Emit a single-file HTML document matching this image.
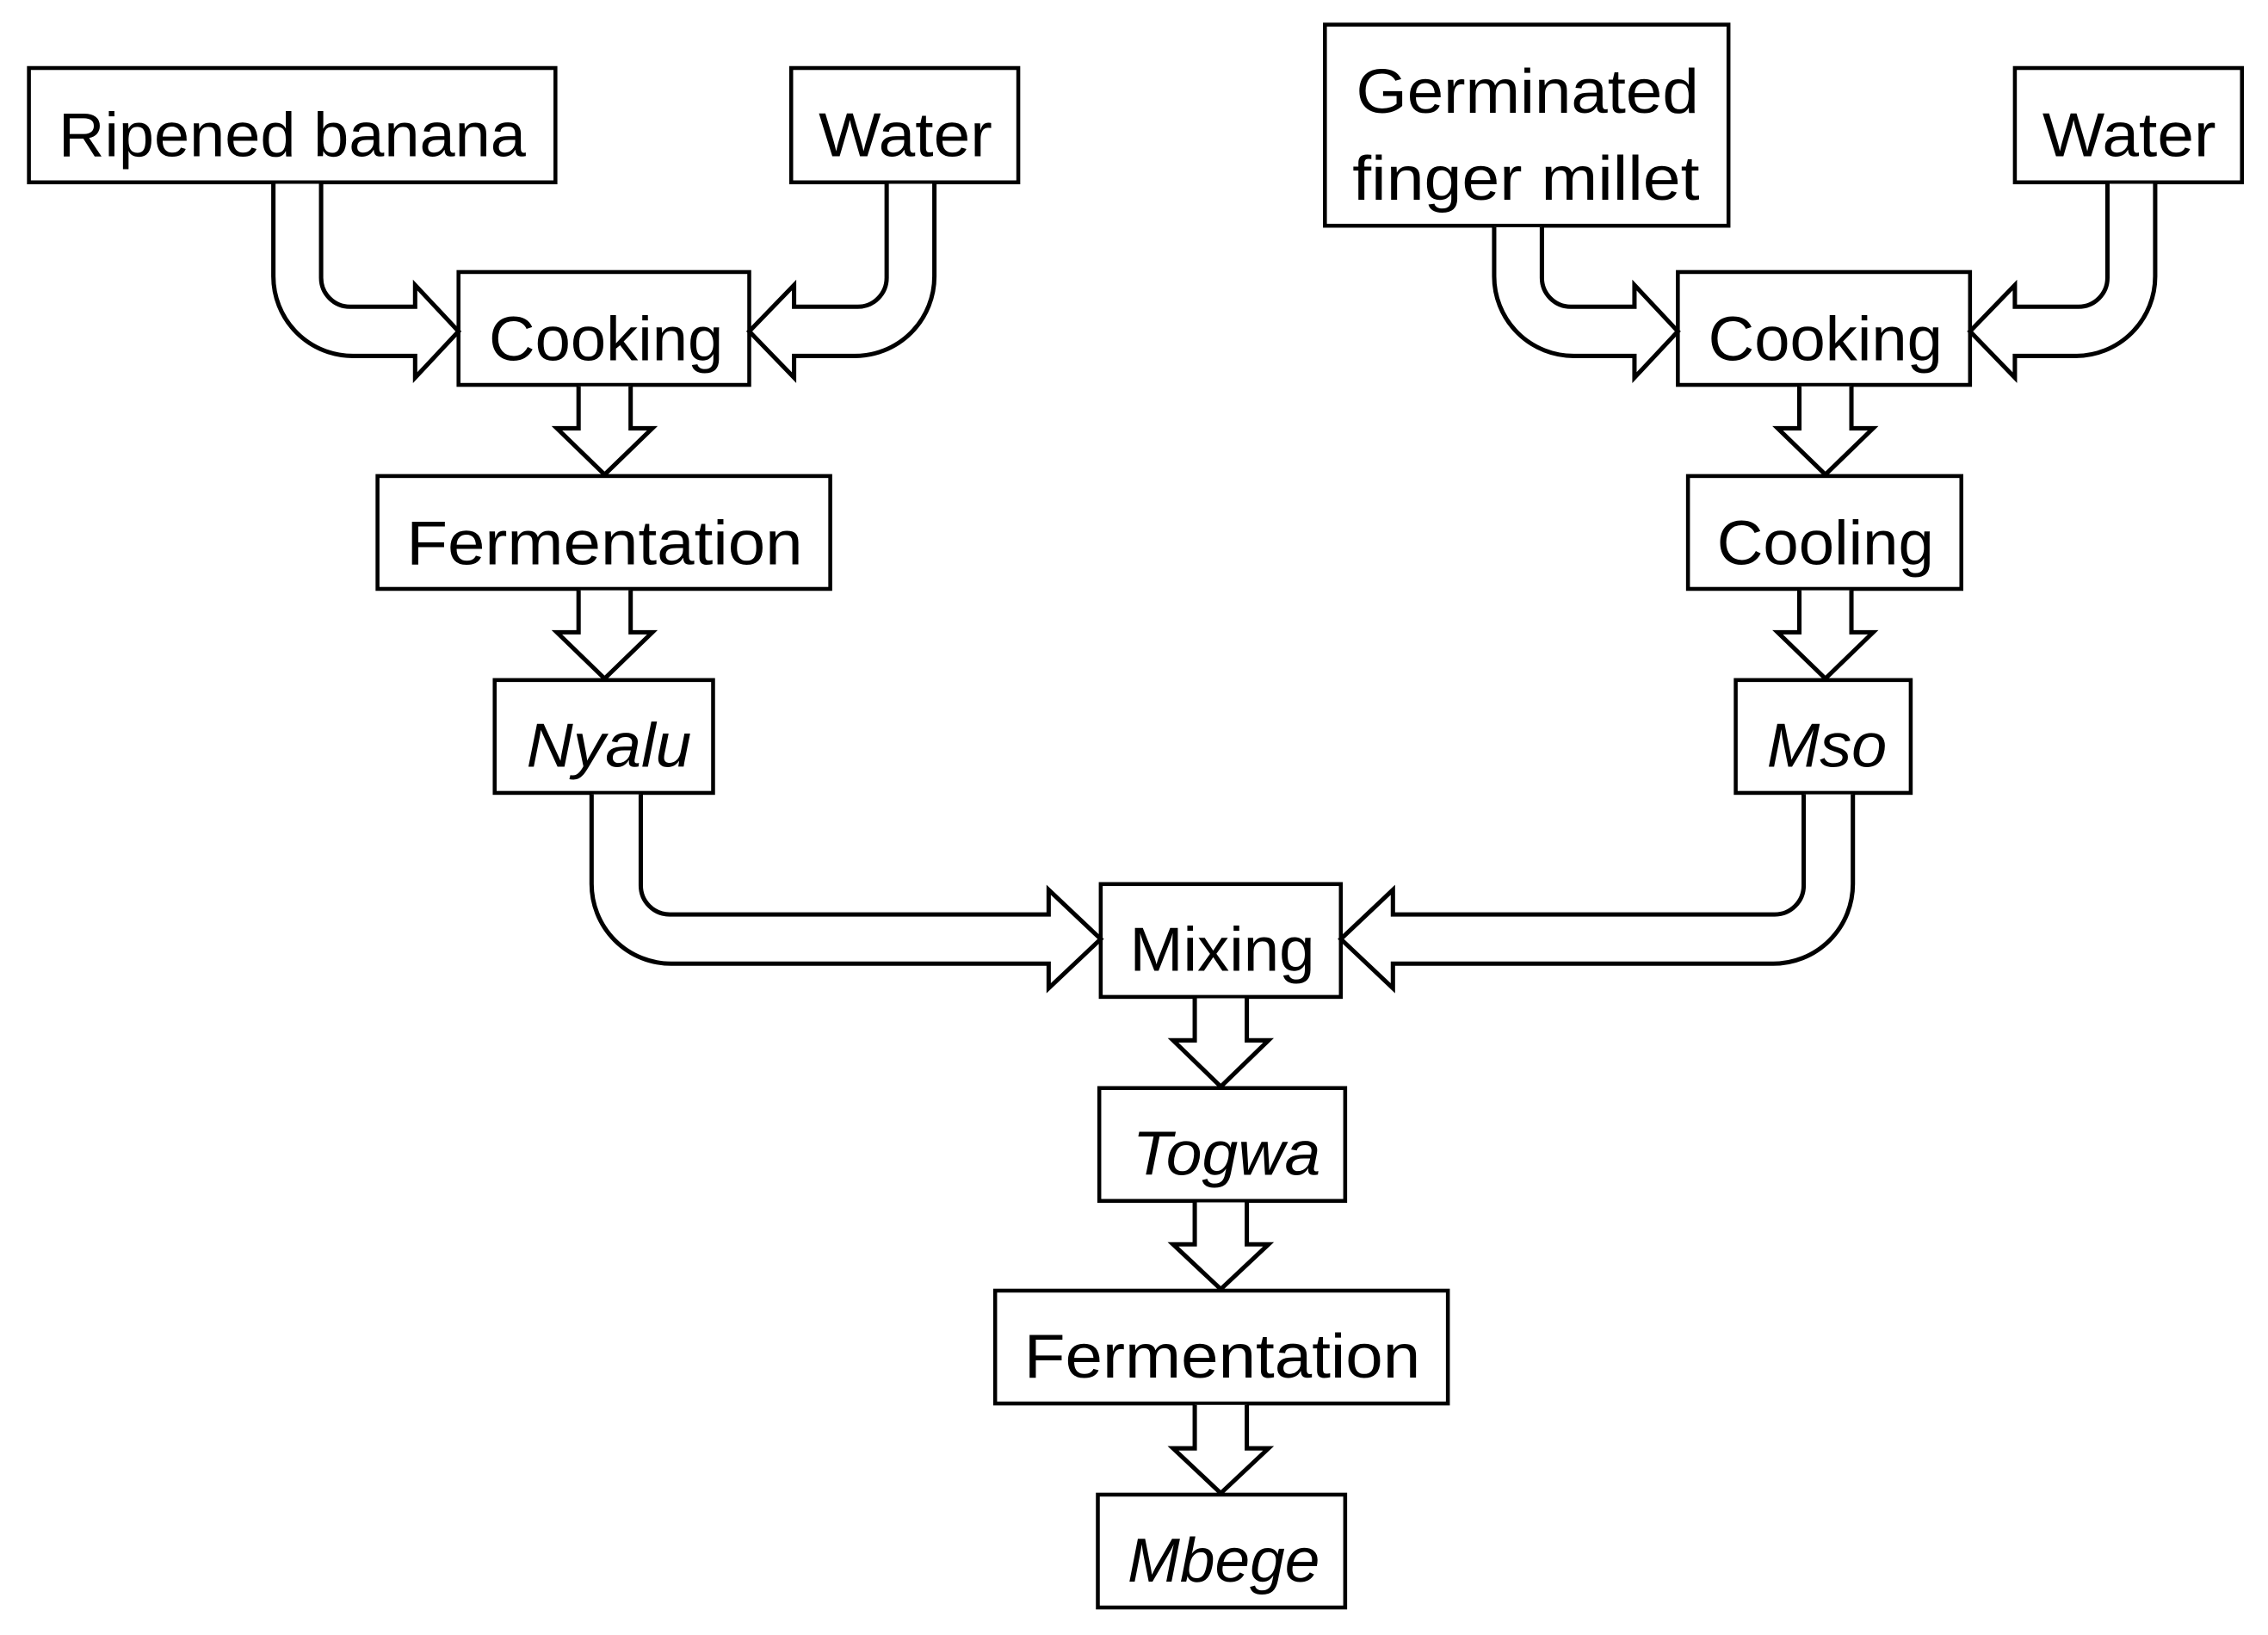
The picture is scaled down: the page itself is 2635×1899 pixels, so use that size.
<!DOCTYPE html>
<html><head><meta charset="utf-8"><style>html,body{margin:0;padding:0;background:#fff}svg{display:block}</style></head>
<body>
<svg width="2635" height="1899" viewBox="0 0 1568 1130" xmlns="http://www.w3.org/2000/svg">
<rect width="1568" height="1130" fill="#fff"/>
<g fill="#fff" stroke="#000" stroke-width="2.7">
<rect x="20" y="47" width="364" height="79"/>
<rect x="547" y="47" width="157" height="79"/>
<rect x="317" y="188" width="201" height="78"/>
<rect x="261" y="329" width="313" height="78"/>
<rect x="342" y="470" width="151" height="78"/>
<rect x="916" y="17" width="279" height="139"/>
<rect x="1393" y="47" width="157" height="79"/>
<rect x="1160" y="188" width="202" height="78"/>
<rect x="1167" y="329" width="189" height="78"/>
<rect x="1200" y="470" width="121" height="78"/>
<rect x="761" y="611" width="166" height="78"/>
<rect x="760" y="752" width="170" height="78"/>
<rect x="688" y="892" width="313" height="78"/>
<rect x="759" y="1033" width="171" height="78"/>
</g>
<g fill="#fff" stroke="#000" stroke-width="3" stroke-linejoin="miter">
<path d="M189,127 L189,191 A55,55 0 0 0 244,246 L287,246 L287,261 L317,229 L287,197 L287,212 L242,212 A20,20 0 0 1 222,192 L222,127"/>
<path d="M646,127 L646,191 A55,55 0 0 1 591,246 L549,246 L549,261 L518,229 L549,197 L549,212 L593,212 A20,20 0 0 0 613,192 L613,127"/>
<path d="M409,549 L409,611 A55,55 0 0 0 464,666 L725,666 L725,683 L761,649 L725,615 L725,632 L463,632 A20,20 0 0 1 443,612 L443,549"/>
<path d="M1281,549 L1281,611 A55,55 0 0 1 1226,666 L963,666 L963,683 L927,649 L963,615 L963,632 L1227,632 A20,20 0 0 0 1247,612 L1247,549"/>
<path d="M1033,157 L1033,191 A55,55 0 0 0 1088,246 L1130,246 L1130,261 L1160,229 L1130,197 L1130,212 L1086,212 A20,20 0 0 1 1066,192 L1066,157"/>
<path d="M1490,127 L1490,191 A55,55 0 0 1 1435,246 L1393,246 L1393,261 L1362,229 L1393,197 L1393,212 L1437,212 A20,20 0 0 0 1457,192 L1457,127"/>
<path d="M400,267 L400,296 L385,296 L418,328 L451,296 L436,296 L436,267"/>
<path d="M400,408 L400,437 L385,437 L418,469 L451,437 L436,437 L436,408"/>
<path d="M1244,267 L1244,296 L1229,296 L1262,328 L1295,296 L1280,296 L1280,267"/>
<path d="M1244,408 L1244,437 L1229,437 L1262,469 L1295,437 L1280,437 L1280,408"/>
<path d="M826,690 L826,719 L811,719 L844,751 L877,719 L862,719 L862,690"/>
<path d="M826,831 L826,860 L811,860 L844,891 L877,860 L862,860 L862,831"/>
<path d="M826,971 L826,1001 L811,1001 L844,1032 L877,1001 L862,1001 L862,971"/>
</g>
<g font-family="Liberation Sans, sans-serif" font-size="43" fill="#000" text-anchor="middle">
<text x="202" y="108" textLength="323" lengthAdjust="spacingAndGlyphs">Ripened banana</text>
<text x="626" y="108" textLength="120" lengthAdjust="spacingAndGlyphs">Water</text>
<text x="419" y="249" textLength="162" lengthAdjust="spacingAndGlyphs">Cooking</text>
<text x="418" y="390" textLength="274" lengthAdjust="spacingAndGlyphs">Fermentation</text>
<text x="421" y="530" textLength="114" lengthAdjust="spacingAndGlyphs" font-style="italic">Nyalu</text>
<text x="1056" y="78" textLength="237" lengthAdjust="spacingAndGlyphs">Germinated</text>
<text x="1055" y="138" textLength="240" lengthAdjust="spacingAndGlyphs">finger millet</text>
<text x="1472" y="108" textLength="120" lengthAdjust="spacingAndGlyphs">Water</text>
<text x="1262" y="249" textLength="162" lengthAdjust="spacingAndGlyphs">Cooking</text>
<text x="1262" y="390" textLength="150" lengthAdjust="spacingAndGlyphs">Cooling</text>
<text x="1263" y="530" textLength="83" lengthAdjust="spacingAndGlyphs" font-style="italic">Mso</text>
<text x="845" y="671" textLength="128" lengthAdjust="spacingAndGlyphs">Mixing</text>
<text x="848" y="812" textLength="130" lengthAdjust="spacingAndGlyphs" font-style="italic">Togwa</text>
<text x="845" y="952" textLength="274" lengthAdjust="spacingAndGlyphs">Fermentation</text>
<text x="846" y="1093" textLength="133" lengthAdjust="spacingAndGlyphs" font-style="italic">Mbege</text>
</g>
</svg>
</body></html>
